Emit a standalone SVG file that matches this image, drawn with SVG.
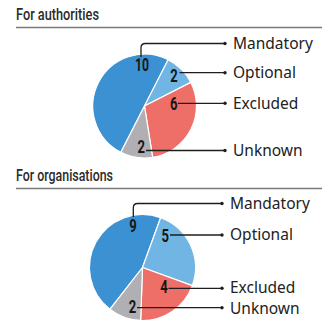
<svg xmlns="http://www.w3.org/2000/svg" width="326" height="320" viewBox="0 0 326 320">
<style>
.title{font-family:Roboto,"Liberation Sans",sans-serif;font-weight:500;font-size:16.5px;fill:#2b2b2b}
.rule{stroke:#7a7a7a;stroke-width:1.3;fill:none}
.sl{stroke:#fff;stroke-width:1.2;stroke-linejoin:round}
.man{fill:#3c91d2}.opt{fill:#70b5e3}.exc{fill:#ee6f68}.unk{fill:#b0afb4}
.num{font-family:Roboto,"Liberation Sans",sans-serif;font-weight:700;font-size:17.5px;fill:#161616;text-anchor:middle}
.lab{font-family:"Noto Sans","Open Sans","DejaVu Sans",sans-serif;font-size:15.5px;fill:#222}
.ld{stroke:#1e1e1e;stroke-width:1.3;fill:none}
.dot{fill:#1e1e1e}
</style>
<g id="title-authorities">
<text class="title" x="16" y="20" textLength="83" lengthAdjust="spacingAndGlyphs">For authorities</text>
<line class="rule" x1="16" y1="27.5" x2="322" y2="27.5"/>
</g>
<g id="title-organisations">
<text class="title" x="16" y="181" textLength="97" lengthAdjust="spacingAndGlyphs">For organisations</text>
<line class="rule" x1="16" y1="188.5" x2="322" y2="188.5"/>
</g>

<g id="a-mandatory">
<path class="sl man" d="M144.5 106 L120.89 152.33 A52 52 0 0 1 168.11 59.67 Z"/>
<text class="num" x="142" y="70.5" textLength="14" lengthAdjust="spacingAndGlyphs">10</text>
<text class="lab" x="233" y="48.8">Mandatory</text>
</g>
<g id="a-optional">
<path class="sl opt" d="M144.5 106 L168.11 59.67 A52 52 0 0 1 190.83 82.39 Z"/>
<text class="num" x="174" y="81.5" textLength="7.5" lengthAdjust="spacingAndGlyphs">2</text>
<text class="lab" x="233" y="78">Optional</text>
</g>
<g id="a-excluded">
<path class="sl exc" d="M144.5 106 L190.83 82.39 A52 52 0 0 1 152.63 157.36 Z"/>
<text class="num" x="173.7" y="110" textLength="7.5" lengthAdjust="spacingAndGlyphs">6</text>
<text class="lab" x="233" y="108.6">Excluded</text>
</g>
<g id="a-unknown">
<path class="sl unk" d="M144.5 106 L152.63 157.36 A52 52 0 0 1 120.89 152.33 Z"/>
<text class="num" x="141.3" y="153" textLength="7.5" lengthAdjust="spacingAndGlyphs">2</text>
<text class="lab" x="233" y="155.8">Unknown</text>
</g>

<g id="o-mandatory">
<path class="sl man" d="M142.5 267.5 L109.87 309.27 A53 53 0 0 1 160.63 217.7 Z"/>
<text class="num" x="133" y="231.5" textLength="7.5" lengthAdjust="spacingAndGlyphs">9</text>
<text class="lab" x="230" y="208.8">Mandatory</text>
</g>
<g id="o-optional">
<path class="sl opt" d="M142.5 267.5 L160.63 217.7 A53 53 0 0 1 192.3 285.63 Z"/>
<text class="num" x="165.3" y="241.5" textLength="7.5" lengthAdjust="spacingAndGlyphs">5</text>
<text class="lab" x="230" y="240.3">Optional</text>
</g>
<g id="o-excluded">
<path class="sl exc" d="M142.5 267.5 L192.3 285.63 A53 53 0 0 1 140.65 320.47 Z"/>
<text class="num" x="164" y="293" textLength="7.5" lengthAdjust="spacingAndGlyphs">4</text>
<text class="lab" x="230" y="292.8">Excluded</text>
</g>
<g id="o-unknown">
<path class="sl unk" d="M142.5 267.5 L140.65 320.47 A53 53 0 0 1 109.87 309.27 Z"/>
<text class="num" x="132.5" y="313" textLength="7.5" lengthAdjust="spacingAndGlyphs">2</text>
<text class="lab" x="230" y="314">Unknown</text>
</g>

<g id="connectors">
<path class="ld" d="M141 57 V47.8 Q141 43.5 145.3 43.5 H225"/>
<path class="ld" d="M179.5 72.7 H225"/>
<path class="ld" d="M178 103.3 H225"/>
<path class="ld" d="M146 150.5 H225"/>
<circle class="dot" cx="225" cy="43.5" r="1.7"/>
<circle class="dot" cx="225" cy="72.7" r="1.7"/>
<circle class="dot" cx="225" cy="103.3" r="1.7"/>
<circle class="dot" cx="225" cy="150.5" r="1.7"/>
<path class="ld" d="M133.3 217 V207.8 Q133.3 203.5 137.6 203.5 H222"/>
<path class="ld" d="M170 235 H222"/>
<path class="ld" d="M168.5 288.3 H222"/>
<path class="ld" d="M137 307.7 H222"/>
<circle class="dot" cx="222" cy="203.5" r="1.7"/>
<circle class="dot" cx="222" cy="235" r="1.7"/>
<circle class="dot" cx="222" cy="288.3" r="1.7"/>
<circle class="dot" cx="222" cy="307.7" r="1.7"/>
</g>
</svg>
